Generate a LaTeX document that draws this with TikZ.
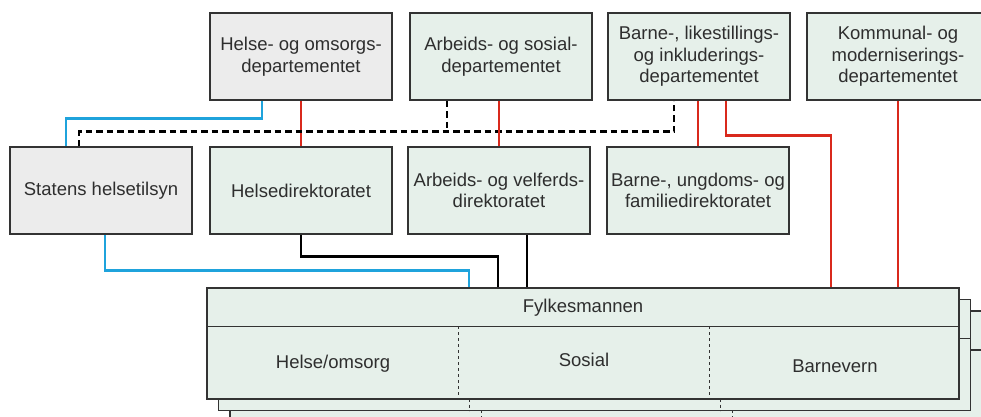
\documentclass[tikz,border=0pt]{standalone}
\usepackage{fontspec}
\setmainfont{Liberation Sans}
\definecolor{boxgrey}{HTML}{ECECEC}
\definecolor{boxgreen}{HTML}{E6F0EA}
\definecolor{edge}{HTML}{333333}
\definecolor{txt}{HTML}{2E2E2E}
\definecolor{lred}{HTML}{D9291C}
\definecolor{lblue}{HTML}{1FA3DC}
\begin{document}
\begin{tikzpicture}[x=1pt,y=-1pt,
    box/.style={draw=edge,line width=1.5pt,minimum width=182pt,minimum height=87pt,
      inner sep=0pt,align=center,text=txt,font=\fontsize{18.5}{21.5}\selectfont},
    grey/.style={box,fill=boxgrey},
    green/.style={box,fill=boxgreen},
    lbl/.style={text=txt,font=\fontsize{18.5}{21.5}\selectfont,inner sep=0pt},
    redline/.style={draw=lred,line width=2.8pt},
    blueline/.style={draw=lblue,line width=2.8pt},
    blackline/.style={draw=black,line width=2.8pt},
    dashline/.style={draw=black,line width=2.8pt,dash pattern=on 6.5pt off 4pt}]
  \useasboundingbox (0,0) rectangle (981,416);
  \clip (0,0) rectangle (981,416);
  % departementer
  \node[grey] (hod) at (301,56.5) {Helse- og omsorgs-\\departementet};
  \node[green] (asd) at (501,56.5) {Arbeids- og sosial-\\departementet};
  \node[green] (bld) at (699,56.5) {Barne-, likestillings-\\og inkluderings-\\departementet};
  \node[green] (kmd) at (898,56.5) {Kommunal- og\\moderniserings-\\departementet};
  % direktorater
  \node[grey] (sht) at (101,190.5) {Statens helsetilsyn};
  \node[green] (hdir) at (301,190.5) {Helsedirektoratet};
  \node[green] (nav) at (499,190.5) {Arbeids- og velferds-\\direktoratet};
  \node[green] (bufdir) at (698,190.5) {Barne-, ungdoms- og\\familiedirektoratet};
  % fylkesmannen, stablet
  \foreach \s in {2,1} {
    \begin{scope}[shift={(11.5*\s,11.5*\s)}]
      \draw[draw=edge,line width=1.5pt,fill=boxgreen] (207,288) rectangle (959,399);
      \draw[draw=edge,line width=1.5pt] (207,327) -- (959,327);
      \draw[draw=edge,line width=1pt,dashed] (458,327) -- (458,399);
      \draw[draw=edge,line width=1pt,dashed] (709,327) -- (709,399);
    \end{scope}
  }
  \node[draw=edge,line width=1.5pt,fill=boxgreen,minimum width=752pt,minimum height=111pt,
    inner sep=0pt] (fm) at (583,343.5) {};
  \draw[draw=edge,line width=1.5pt] ([yshift=-39pt]fm.north west) -- ([yshift=-39pt]fm.north east);
  \draw[draw=edge,line width=1pt,dashed] ([xshift=-125pt,yshift=-39pt]fm.north) -- ([xshift=-125pt]fm.south);
  \draw[draw=edge,line width=1pt,dashed] ([xshift=126pt,yshift=-39pt]fm.north) -- ([xshift=126pt]fm.south);
  \node[lbl] (fmname) at (583,308) {Fylkesmannen};
  \node[lbl] (helse) at (333,364) {Helse/omsorg};
  \node[lbl] (sosial) at (584,360) {Sosial};
  \node[lbl] (barnevern) at (835,366) {Barnevern};
  % linjer
  \draw[blueline] ([xshift=-39pt]hod.south) -- ++(0,18) -| ([xshift=-35pt]sht.north);
  \draw[redline] (hdir.north) -- (hod.south);
  \draw[dashline] ([xshift=-22pt]sht.north) -- ++(0,-14.5) -| ([xshift=-25pt]bld.south);
  \draw[dashline] ([xshift=-54pt]asd.south) -- ++(0,32.5);
  \draw[redline] (nav.north) -- (nav.north |- asd.south);
  \draw[redline] (bufdir.north) -- (bufdir.north |- bld.south);
  \draw[redline] ([xshift=27pt]bld.south) -- ++(0,35) -| ([xshift=248pt]fm.north);
  \draw[redline] (kmd.south) -- (kmd.south |- fm.north);
  \draw[blueline] ([xshift=4pt]sht.south) -- ++(0,36) -| ([xshift=-114pt]fm.north);
  \draw[blackline] (hdir.south) -- ++(0,22) -| ([xshift=-85pt]fm.north);
  \draw[blackline] ([xshift=28pt]nav.south) -- ([xshift=28pt]nav.south |- fm.north);
\end{tikzpicture}
\end{document}
